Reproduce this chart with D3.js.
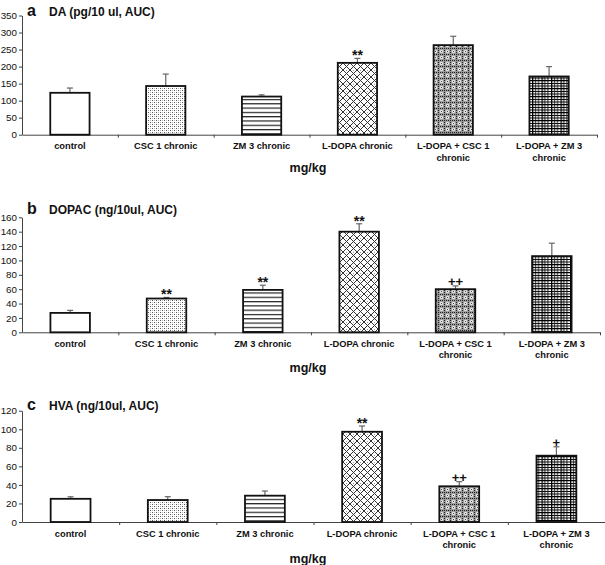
<!DOCTYPE html>
<html>
<head>
<meta charset="utf-8">
<script src="https://cdn.jsdelivr.net/npm/d3@7"></script>
<style>
  html, body { margin: 0; padding: 0; background: #fff; }
  svg { display: block; }
  text { font-family: "Liberation Sans", Arial, sans-serif; }
</style>
</head>
<body>
<svg id="chart" width="605" height="565"></svg>
<script>
// ---------- data ----------
const categories = [
  ["control"],
  ["CSC 1 chronic"],
  ["ZM 3 chronic"],
  ["L-DOPA chronic"],
  ["L-DOPA + CSC 1", "chronic"],
  ["L-DOPA + ZM 3", "chronic"]
];
const patternIds = ["p-none", "p-dots", "p-hlines", "p-diamond", "p-dense", "p-grid"];

const daValues   = [123, 143, 112, 211, 263, 171];
const daErrors   = [14, 35, 5, 13, 26, 29];
const daMarks    = ["", "", "", "**", "", ""];
const daTicks    = [0, 50, 100, 150, 200, 250, 300, 350];

const dopacValues = [27, 47, 59, 140, 60, 106];
const dopacErrors = [3.5, 1.5, 6.5, 11, 4.5, 18];
const dopacMarks  = ["", "**", "**", "**", "++", ""];
const dopacTicks  = [0, 20, 40, 60, 80, 100, 120, 140, 160];

const hvaValues = [25, 23.7, 28.4, 97.3, 38.5, 71.5];
const hvaErrors = [2.2, 3.6, 5, 6.2, 5, 9.6];
const hvaMarks  = ["", "", "", "**", "++", "+"];
const hvaTicks  = [0, 20, 40, 60, 80, 100, 120];

const panels = [
  { letter: "a", title: "DA (pg/10 ul, AUC)", values: daValues, errors: daErrors, marks: daMarks, ticks: daTicks,
    top: 15.5, zero: 134.7, right: 597, titleY: 16, unitY: 172 },
  { letter: "b", title: "DOPAC (ng/10ul, AUC)", values: dopacValues, errors: dopacErrors, marks: dopacMarks, ticks: dopacTicks,
    top: 217.3, zero: 332.3, right: 600, titleY: 213.5, unitY: 372 },
  { letter: "c", title: "HVA (ng/10ul, AUC)", values: hvaValues, errors: hvaErrors, marks: hvaMarks, ticks: hvaTicks,
    top: 410.7, zero: 522, right: 605, titleY: 409.5, unitY: 563 }
];

// ---------- drawing ----------
const svg = d3.select("#chart");
const defs = svg.append("defs");

function pat(id, w, h) {
  return defs.append("pattern").attr("id", id).attr("patternUnits", "userSpaceOnUse")
    .attr("width", w).attr("height", h);
}
pat("p-none", 4, 4).append("rect").attr("width", 4).attr("height", 4).attr("fill", "#fff");
{
  const p = pat("p-dots", 4, 4);
  p.append("rect").attr("width", 4).attr("height", 4).attr("fill", "#fff");
  p.append("rect").attr("x", 0).attr("y", 0).attr("width", 1).attr("height", 1).attr("fill", "#555");
  p.append("rect").attr("x", 2).attr("y", 2).attr("width", 1).attr("height", 1).attr("fill", "#555");
  p.append("rect").attr("x", 2).attr("y", 0).attr("width", 1).attr("height", 1).attr("fill", "#bbb");
  p.append("rect").attr("x", 0).attr("y", 2).attr("width", 1).attr("height", 1).attr("fill", "#bbb");
}
{
  const p = pat("p-hlines", 4, 4.3);
  p.append("rect").attr("width", 4).attr("height", 4.3).attr("fill", "#fff");
  p.append("rect").attr("x", 0).attr("y", 0).attr("width", 4).attr("height", 1.2).attr("fill", "#222");
}
{
  const p = pat("p-diamond", 7, 7);
  p.append("rect").attr("width", 7).attr("height", 7).attr("fill", "#fff");
  p.append("path").attr("d", "M0,0L7,7M7,0L0,7M-1,6L1,8M6,-1L8,1M-1,1L1,-1M6,8L8,6")
    .attr("stroke", "#333").attr("stroke-width", 1);
  p.append("rect").attr("x", 3).attr("y", 0).attr("width", 1).attr("height", 1).attr("fill", "#999");
}
{
  const p = pat("p-dense", 6, 6);
  p.append("rect").attr("width", 6).attr("height", 6).attr("fill", "#999");
  p.append("rect").attr("x", 0).attr("y", 0).attr("width", 1).attr("height", 1).attr("fill", "#222");
  p.append("rect").attr("x", 2).attr("y", 0).attr("width", 1).attr("height", 1).attr("fill", "#222");
  p.append("rect").attr("x", 4).attr("y", 0).attr("width", 1).attr("height", 1).attr("fill", "#222");
  p.append("rect").attr("x", 0).attr("y", 2).attr("width", 1).attr("height", 1).attr("fill", "#222");
  p.append("rect").attr("x", 0).attr("y", 4).attr("width", 1).attr("height", 1).attr("fill", "#222");
  p.append("circle").attr("cx", 3.5).attr("cy", 3.5).attr("r", 1.7).attr("fill", "#e6e6e6");
  p.append("rect").attr("x", 3).attr("y", 3).attr("width", 1).attr("height", 1).attr("fill", "#444");
}
{
  const p = pat("p-grid", 9.5, 8);
  p.append("rect").attr("width", 9.5).attr("height", 8).attr("fill", "#fff");
  p.append("path").attr("d", "M0.5,0V8M3.5,0V8M6.5,0V8M0,0.5H9.5M0,3.5H9.5M0,6H9.5")
    .attr("stroke", "#111").attr("stroke-width", 1);
  p.append("path").attr("d", "M0.5,0V8M0,0.5H9.5").attr("stroke", "#000").attr("stroke-width", 1.6);
}

panels.forEach(P => {
  const g = svg.append("g");
  const yMax = P.ticks[P.ticks.length - 1];
  const y = d3.scaleLinear().domain([0, yMax]).range([P.zero, P.top]);
  const x = d3.scaleBand().domain(d3.range(categories.length))
    .range([22, P.right]).paddingInner(0.59).paddingOuter(0.295);
  const xb = d3.scaleLinear().domain([0, categories.length]).range([22, P.right]);

  // y axis
  const yAxis = g.append("g").attr("transform", "translate(22,0)")
    .call(d3.axisLeft(y).tickValues(P.ticks).tickSize(3).tickSizeOuter(0).tickPadding(2).tickFormat(d3.format("d")));
  yAxis.select(".domain").attr("stroke", "#444");
  yAxis.selectAll(".tick line").attr("stroke", "#444");
  yAxis.selectAll("text").attr("font-size", 9.8).attr("fill", "#111")
    .attr("font-family", "'Liberation Sans', Arial, sans-serif");

  // x axis (category boundaries)
  const xAxis = g.append("g").attr("transform", `translate(0,${P.zero})`)
    .call(d3.axisBottom(xb).tickValues(d3.range(1, categories.length + 1)).tickSize(3).tickSizeOuter(0).tickFormat(""));
  xAxis.select(".domain").attr("stroke", "#444");
  xAxis.selectAll(".tick line").attr("stroke", "#444");

  // error bars (behind bars)
  const eb = g.append("g").attr("stroke", "#666").attr("stroke-width", 1.2);
  P.values.forEach((v, i) => {
    const cx = x(i) + x.bandwidth() / 2;
    eb.append("line").attr("x1", cx).attr("x2", cx).attr("y1", y(v)).attr("y2", y(v + P.errors[i]));
    eb.append("line").attr("x1", cx - 3).attr("x2", cx + 3).attr("y1", y(v + P.errors[i])).attr("y2", y(v + P.errors[i]));
  });

  // bars
  g.append("g").selectAll("rect").data(P.values).join("rect")
    .attr("x", (d, i) => x(i))
    .attr("y", d => y(d))
    .attr("width", x.bandwidth())
    .attr("height", d => P.zero - y(d))
    .attr("fill", (d, i) => `url(#${patternIds[i]})`)
    .attr("stroke", "#111").attr("stroke-width", 1.8);

  // significance marks
  g.append("g").selectAll("text").data(P.marks).join("text")
    .attr("x", (d, i) => x(i) + x.bandwidth() / 2)
    .attr("y", (d, i) => y(P.values[i] + P.errors[i]) + (d === "**" ? 2 : 0))
    .attr("text-anchor", "middle").attr("font-size", d => d === "**" ? 14 : 13).attr("font-weight", "bold")
    .attr("fill", "#111")
    .text(d => d);

  // category labels
  categories.forEach((lines, i) => {
    const t = g.append("text")
      .attr("x", xb(i + 0.5)).attr("y", P.zero + 14.5)
      .attr("text-anchor", "middle").attr("font-size", 9.3).attr("font-weight", "bold").attr("fill", "#111");
    lines.forEach((ln, k) => {
      t.append("tspan").attr("x", xb(i + 0.5)).attr("dy", k === 0 ? 0 : 11.5).text(ln);
    });
  });

  // panel letter and title
  g.append("text").attr("x", 27).attr("y", P.titleY).attr("font-size", 16).attr("font-weight", "bold")
    .attr("fill", "#111").text(P.letter);
  g.append("text").attr("x", 49).attr("y", P.titleY).attr("font-size", 12).attr("font-weight", "bold")
    .attr("fill", "#111").text(P.title);

  // unit label
  g.append("text").attr("x", 308).attr("y", P.unitY).attr("text-anchor", "middle")
    .attr("font-size", 12.5).attr("font-weight", "bold").attr("fill", "#111").text("mg/kg");
});
</script>
</body>
</html>
